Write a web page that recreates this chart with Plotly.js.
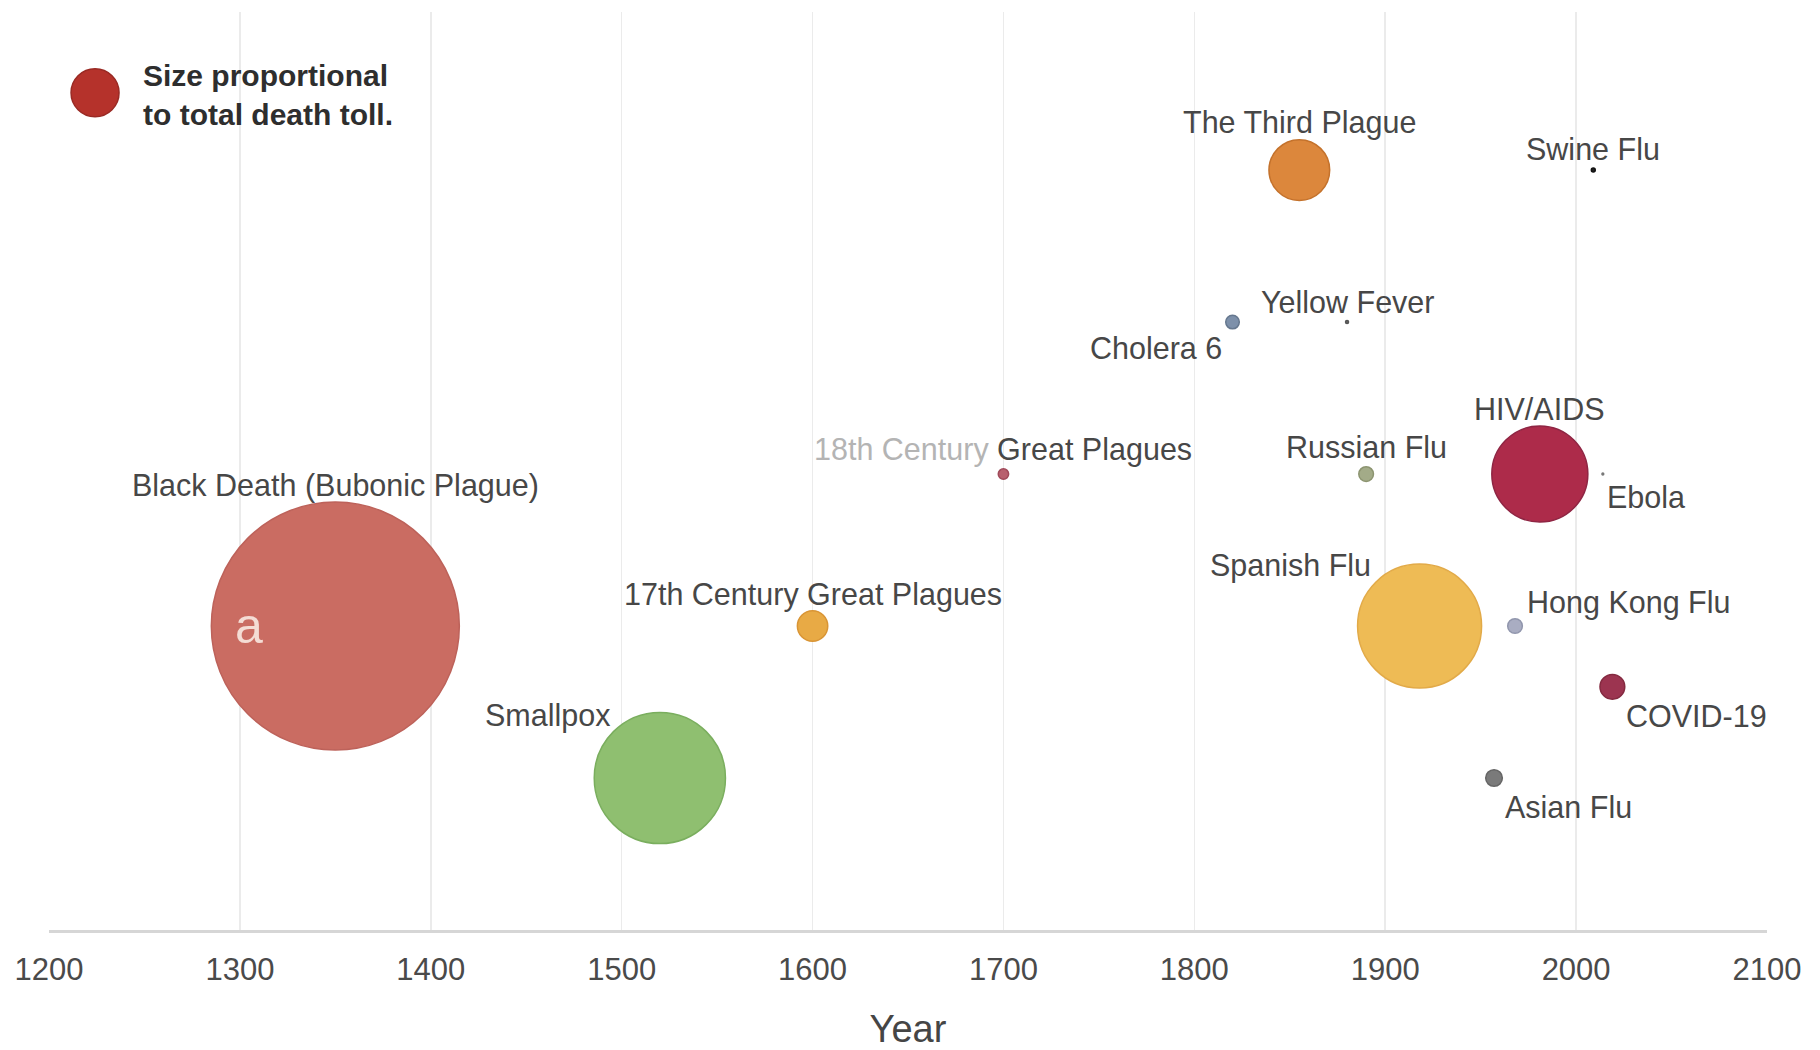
<!DOCTYPE html>
<html>
<head>
<meta charset="utf-8">
<script src="https://cdn.plot.ly/plotly-3.0.1.min.js"></script>
<style>
  html, body { margin: 0; padding: 0; background: #ffffff; }
  #chart { width: 1820px; height: 1050px; }
</style>
</head>
<body>
<div id="chart"></div>
<script>
// ---- Data ----
const diseases = [
  "Black Death (Bubonic Plague)", "Smallpox", "17th Century Great Plagues",
  "18th Century Great Plagues", "Cholera 6", "The Third Plague", "Yellow Fever",
  "Russian Flu", "Spanish Flu", "Asian Flu", "Hong Kong Flu", "HIV/AIDS",
  "Swine Flu", "Ebola", "COVID-19"
];
const years = [1350, 1520, 1600, 1700, 1820, 1855, 1880, 1890, 1918, 1957, 1968, 1981, 2009, 2014, 2019];
const rows = [2, 1, 2, 3, 4, 5, 4, 3, 2, 1, 2, 3, 5, 3, 1.6];
const deathsMillions = [200, 56, 3, 0.35, 0.6, 12, 0.03, 0.7, 50, 0.9, 0.7, 30, 0.05, 0.011, 2.0];
const xTicks = [1200, 1300, 1400, 1500, 1600, 1700, 1800, 1900, 2000, 2100];

// ---- Styles ----
const fillColors = [
  "#ca6c62", "#8fbf70", "#e8aa45", "#b8606e", "#7d90aa", "#dc873c", "#666666",
  "#a3ab88", "#eebb55", "#7a7a7a", "#a9adc2", "#ad2b4a", "#222222", "#888888", "#9c3450"
];
const edgeColors = [
  "#bd625a", "#7aae5e", "#d99535", "#a04a5a", "#66788f", "#c4722c", "#555555",
  "#8c9470", "#e2aa48", "#666666", "#9196ad", "#8f2543", "#111111", "#777777", "#842a40"
];
// label placement: [xanchor, xshift(px), yshift(px)]
const labelPlacement = {
  "Black Death (Bubonic Plague)": ["center", 0, 141],
  "Smallpox": ["right", -48, 63],
  "17th Century Great Plagues": ["center", 0, 32],
  "18th Century Great Plagues": ["center", 0, 25],
  "Cholera 6": ["right", -9, -26],
  "The Third Plague": ["center", 0, 48],
  "Yellow Fever": ["center", 0, 20],
  "Russian Flu": ["center", 0, 27],
  "Spanish Flu": ["right", -47, 61],
  "Asian Flu": ["left", 9, -29],
  "Hong Kong Flu": ["left", 10, 24],
  "HIV/AIDS": ["center", 0, 65],
  "Swine Flu": ["center", 0, 21],
  "Ebola": ["left", 2, -23],
  "COVID-19": ["left", 12, -29]
};
const labelText = {
  "18th Century Great Plagues": '<span style="color:#b4b4b4">18th Century</span> Great Plagues'
};

const maxDeaths = Math.max(...deathsMillions);
const maxDiameterPx = 248;
const sizeref = 2 * maxDeaths / Math.pow(maxDiameterPx, 2);

const bubbles = {
  type: "scatter",
  mode: "markers",
  x: years,
  y: rows,
  text: diseases,
  hoverinfo: "text",
  marker: {
    size: deathsMillions,
    sizemode: "area",
    sizeref: sizeref,
    sizemin: 0,
    color: fillColors,
    opacity: 1,
    line: { color: edgeColors, width: 1.5 }
  },
  showlegend: false
};

const annotations = diseases.map((name, i) => {
  const p = labelPlacement[name];
  return {
    x: years[i], y: rows[i], xref: "x", yref: "y",
    text: labelText[name] || name,
    showarrow: false,
    xanchor: p[0], yanchor: "middle",
    xshift: p[1], yshift: p[2],
    font: { family: "Liberation Sans, Arial, sans-serif", size: 30.5, color: "#474747" }
  };
});

// stray light letter inside the Black Death bubble
annotations.push({
  x: 1305, y: 2, xref: "x", yref: "y", text: "a", showarrow: false,
  xanchor: "center", yanchor: "middle",
  font: { family: "Liberation Sans, Arial, sans-serif", size: 50, color: "#f4dcd4" }
});

// legend note
annotations.push({
  x: 0.0535, y: 0.91, xref: "paper", yref: "paper",
  text: "<b>Size proportional<br>to total death toll.</b>",
  showarrow: false, align: "left", xanchor: "left", yanchor: "middle",
  font: { family: "Liberation Sans, Arial, sans-serif", size: 30, color: "#2e2e2e" }
});

const layout = {
  width: 1820, height: 1050,
  margin: { l: 49, r: 53, t: 12, b: 120 },
  paper_bgcolor: "#ffffff",
  plot_bgcolor: "#ffffff",
  xaxis: {
    range: [1200, 2100],
    tickvals: xTicks,
    ticktext: xTicks.map(String),
    showgrid: true, gridcolor: "#ebebeb", gridwidth: 1.5,
    showline: true, linecolor: "#d6d6d6", linewidth: 3,
    zeroline: false, ticks: "",
    ticklabelstandoff: 10,
    tickfont: { family: "Liberation Sans, Arial, sans-serif", size: 31, color: "#4a4a4a" },
    title: { text: "Year", standoff: 40, font: { family: "Liberation Sans, Arial, sans-serif", size: 38, color: "#454545" } },
    automargin: false,
    fixedrange: true
  },
  yaxis: {
    range: [0, 6.04],
    visible: false, showgrid: false, zeroline: false, fixedrange: true
  },
  shapes: [{
    type: "circle", xref: "paper", yref: "paper",
    xsizemode: "pixel", ysizemode: "pixel",
    xanchor: 0.0268, yanchor: 0.912,
    x0: -24, x1: 24, y0: -24, y1: 24,
    fillcolor: "#b5322b", line: { color: "#9a2a24", width: 1.5 }
  }],
  annotations: annotations,
  hovermode: false
};

Plotly.newPlot("chart", [bubbles], layout, { displayModeBar: false, staticPlot: true });
</script>
</body>
</html>
